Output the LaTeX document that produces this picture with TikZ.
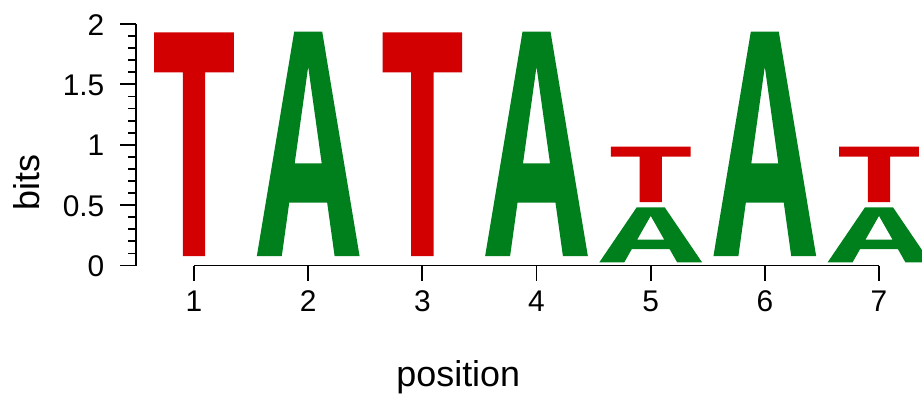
\documentclass[tikz,border=0pt]{standalone}
\usepackage{fontspec}
\setmainfont{Liberation Sans}
\definecolor{lred}{RGB}{210,0,0}
\definecolor{lgreen}{RGB}{0,128,28}
\newcommand{\logoT}[3]{% cx, ytop, ybottom
  \fill[lred] ({#1-39.8},#2) -- ({#1+39.8},#2) -- ({#1+39.8},{#2+0.179*(#3-#2)})
   -- ({#1+11.2},{#2+0.179*(#3-#2)}) -- ({#1+11.2},#3) -- ({#1-11.2},#3)
   -- ({#1-11.2},{#2+0.179*(#3-#2)}) -- ({#1-39.8},{#2+0.179*(#3-#2)}) -- cycle;}
\newcommand{\logoA}[3]{% cx, ytop, ybottom
  \fill[lgreen,even odd rule] ({#1-51.35},#3) -- ({#1-14},#2) -- ({#1+14},#2) -- ({#1+51.35},#3)
   -- ({#1+26.4},#3) -- ({#1+18.96},{#3-0.238*(#3-#2)}) -- ({#1-18.96},{#3-0.238*(#3-#2)})
   -- ({#1-26.4},#3) -- cycle
   ({#1},{#3-0.844*(#3-#2)}) -- ({#1+13.5},{#3-0.413*(#3-#2)}) -- ({#1-13.5},{#3-0.413*(#3-#2)}) -- cycle;}
\begin{document}
\begin{tikzpicture}[x=1bp,y=-1bp,
  axisline/.style={line width=1.8bp,black},
  ticklab/.style={font=\fontsize{30}{32}\selectfont,inner sep=0pt},
  axlab/.style={font=\fontsize{36}{38}\selectfont,inner sep=0pt}]
\useasboundingbox (0,0) rectangle (922,395);
\clip (0,0) rectangle (922,395);
% letters
\logoT{194}{32.3}{256}
\logoA{308.2}{31.7}{256}
\logoT{422.3}{32.3}{256}
\logoA{536.5}{31.7}{256}
\logoT{650.7}{146.7}{202}
\logoA{650.7}{207.3}{262.3}
\logoA{764.8}{31.7}{256}
\logoT{879}{146.7}{202}
\logoA{879}{207.3}{262.3}
% y axis
\draw[axisline] (136,24) -- (136,265.5);
\foreach \k in {0,...,20} {
  \draw[axisline] (128,{265.5-\k*12.075}) -- (136,{265.5-\k*12.075});
}
\foreach \v/\lab in {0/0,5/0.5,10/1,15/1.5,20/2} {
  \draw[axisline] (120,{265.5-\v*12.075}) -- (136,{265.5-\v*12.075});
  \node[ticklab,anchor=base east] (yl\v) at (104.5,{265.5-\v*12.075+11}) {\lab};
}
% x axis
\draw[axisline] (194,265.5) -- (879,265.5);
\foreach \i in {1,...,7} {
  \draw[axisline] ({194+(\i-1)*114.17},265.5) -- ({194+(\i-1)*114.17},281);
  \node[ticklab,anchor=base] (xl\i) at ({194+(\i-1)*114.17},311.5) {\i};
}
\node[axlab,anchor=base] (xlabel) at (458.3,386.5) {position};
\node[axlab,anchor=base,rotate=90] (ylabel) at (39.3,182.5) {bits};
\end{tikzpicture}
\end{document}
